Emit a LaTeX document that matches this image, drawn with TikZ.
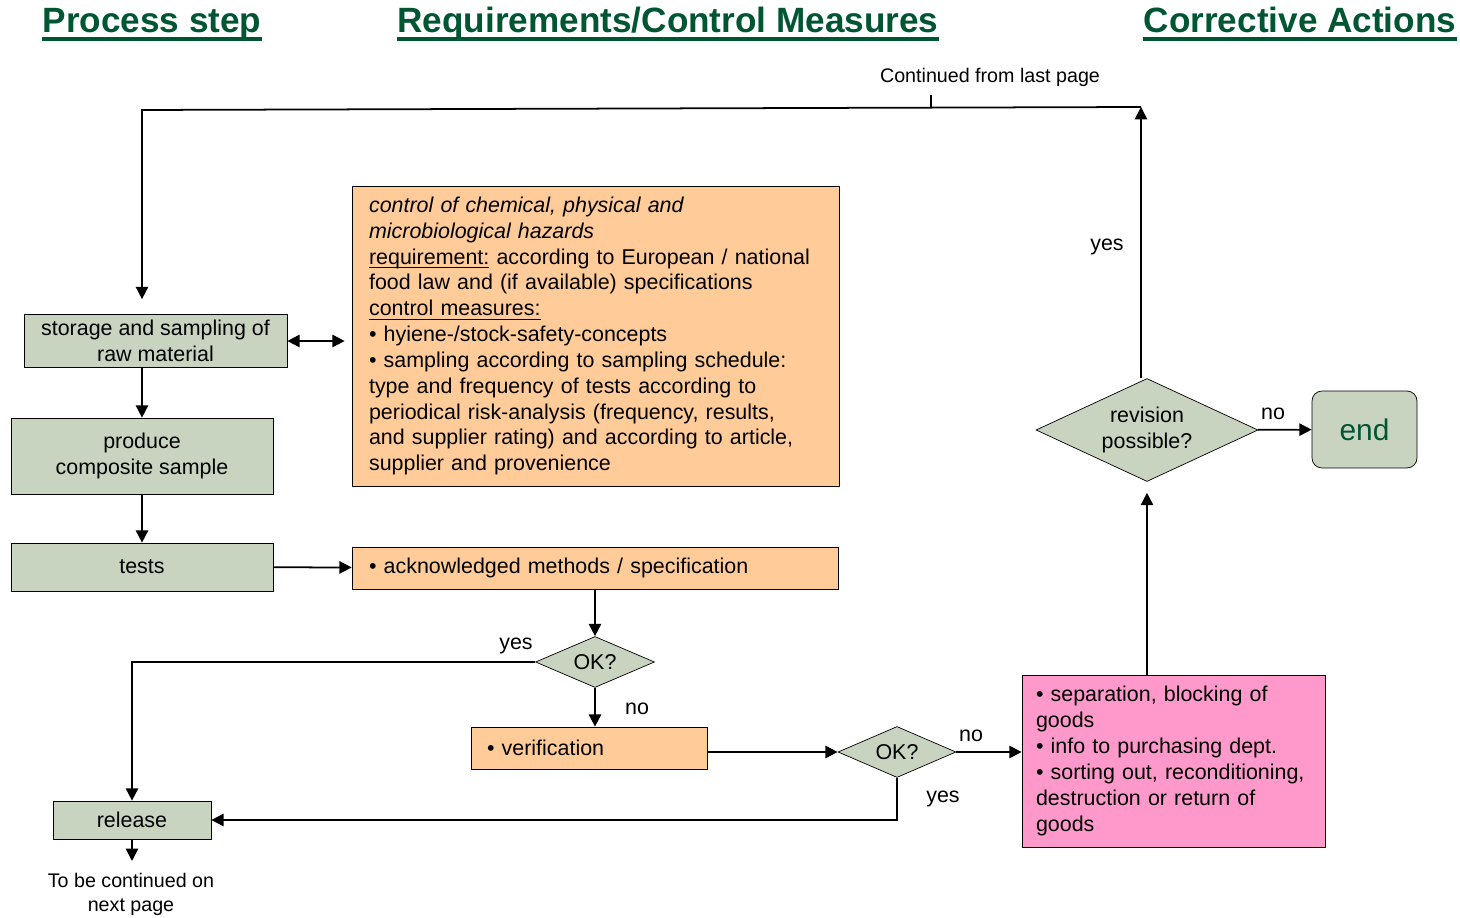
\documentclass[tikz,border=0pt]{standalone}
\usepackage{fontspec}
\setmainfont{Liberation Sans}
\usetikzlibrary{shapes.geometric, arrows.meta}

\definecolor{hdrgreen}{RGB}{0,85,51}
\definecolor{stepgrey}{RGB}{200,212,192}
\definecolor{reqorange}{RGB}{255,204,153}
\definecolor{actpink}{RGB}{255,153,204}

\newsavebox\undlbox
\newcommand{\undl}[1]{\leavevmode\sbox\undlbox{#1}\rlap{\vrule width\wd\undlbox height -1.6pt depth 2.3pt}\usebox\undlbox}

\tikzset{
  every node/.style={font=\fontsize{12.2}{14.7}\selectfont},
  header/.style={font=\fontsize{20}{24}\selectfont\bfseries, text=hdrgreen, inner sep=0pt, anchor=base},
  hdrline/.style={draw=hdrgreen, line width=2.2pt},
  small/.style={font=\fontsize{11.2}{13.6}\selectfont, align=center},
  stepbox/.style={draw, fill=stepgrey, align=center, inner sep=0pt},
  reqbox/.style={draw, fill=reqorange, align=left, inner xsep=0.34cm},
  actbox/.style={draw, fill=actpink, align=left, inner xsep=0.28cm},
  decision/.style={draw, diamond, fill=stepgrey, align=center, inner sep=0pt},
  lbl/.style={inner sep=1pt},
  conn/.style={->, line width=1pt},
}

\begin{document}
\begin{tikzpicture}[x=0.02cm, y=-0.02cm, >={Stealth[inset=0pt, length=7pt, width=7pt]}]
  \useasboundingbox (0,0) rectangle (1460,918);

  % --- headers ---
  \node[header] (hps) at (152,33) {Process step};
  \node[header] (hrc) at (668,33) {Requirements/Control Measures};
  \node[header] (hca) at (1300,33) {Corrective Actions};
  \foreach \h in {hps,hrc,hca}
    \draw[hdrline] ([yshift=-3.5pt]\h.base west) -- ([yshift=-3.5pt]\h.base east);

  % --- process steps ---
  \node[stepbox, minimum width=5.26cm, minimum height=1.06cm] (store) at (155.5,341)
    {storage and sampling of\\raw material};
  \node[stepbox, minimum width=5.24cm, minimum height=1.52cm] (prod) at (142,456)
    {produce\\composite sample};
  \node[stepbox, minimum width=5.24cm, minimum height=0.96cm] (tests) at (142,567) {tests};
  \node[stepbox, minimum width=3.16cm, minimum height=0.76cm] (rel) at (132,820) {release};
  \node[small] (nextpg) at (131,894) {To be continued on\\next page};

  % --- requirements ---
  \node[reqbox, text width=9.06cm, minimum height=6cm] (req) at (595.5,336)
    {\textit{control of chemical, physical and}\\
     \textit{microbiological hazards}\\
     \undl{requirement:} according to European / national\\
     food law and (if available) specifications\\
     \undl{control measures:}\\
     • hyiene-/stock-safety-concepts\\
     • sampling according to sampling schedule:\\
     type and frequency of tests according to\\
     periodical risk-analysis (frequency, results,\\
     and supplier rating) and according to article,\\
     supplier and provenience};
  \node[reqbox, text width=9.04cm, minimum height=0.84cm] (meth) at (595,568)
    {• acknowledged methods / specification};
  \node[decision, shape aspect=2.3, minimum width=2.38cm, minimum height=1.02cm] (ok1) at (595,662) {OK?};
  \node[reqbox, text width=4.08cm, inner xsep=0.32cm, minimum height=0.84cm] (verif) at (589,748)
    {• verification};
  \node[decision, shape aspect=2.3, minimum width=2.36cm, minimum height=1.02cm] (ok2) at (897,752) {OK?};

  % --- corrective actions ---
  \node[actbox, text width=5.5cm, minimum height=3.44cm] (act) at (1173.5,761)
    {• separation, blocking of\\
     goods\\
     • info to purchasing dept.\\
     • sorting out, reconditioning,\\
     destruction or return of\\
     goods};
  \node[decision, shape aspect=2.2, minimum width=4.44cm, minimum height=2.06cm] (rev) at (1147,430)
    {revision\\possible?};
  \node[stepbox, rounded corners=0.2cm, minimum width=2.1cm, minimum height=1.54cm,
        font=\fontsize{17}{20}\selectfont, text=hdrgreen] (end) at (1364.5,429.5) {end};

  % --- continuation at top ---
  \node[small] (cont) at (990,77) {Continued from last page};
  \coordinate (topR) at (1141,107);
  \coordinate (topL) at (142,110);
  \coordinate (tickT) at (931,95);
  \coordinate (tickB) at (931,108);
  \coordinate (relout) at (132,861);

  % --- connectors ---
  \draw[conn] (rev.north -| topR) -- (topR);
  \draw[conn, shorten >=0.3cm] (topR) -- (topL) -- (topL |- store.north);
  \draw[line width=0.7pt] (tickT) -- (tickB);
  \draw[conn, <->, shorten >=4pt] (store.east) -- (req.west |- store.east);
  \draw[conn] (store.south -| prod.north) -- (prod.north);
  \draw[conn] (prod) -- (tests);
  \draw[conn] (tests) -- (meth);
  \draw[conn] (meth) -- (ok1);
  \draw[conn] (ok1.west) -- (ok1.west -| rel.north) -- (rel.north);
  \draw[conn] (ok1.south) -- (ok1.south |- verif.north);
  \draw[conn] (verif.east |- ok2.west) -- (ok2.west);
  \draw[conn] (ok2.east) -- (ok2.east -| act.west);
  \draw[conn] (ok2.south) -- (ok2.south |- rel.east) -- (rel.east);
  \draw[conn, shorten >=0.22cm] (act.north -| rev.south) -- (rev.south);
  \draw[conn] (rev) -- (end);
  \draw[conn] (rel) -- (relout);

  % --- yes / no labels ---
  \node[lbl] (yrev) at (1107,247) {yes};
  \node[lbl] (y1) at (516,646) {yes};
  \node[lbl] (n1) at (637,709) {no};
  \node[lbl] (n2) at (971,736) {no};
  \node[lbl] (y2) at (943,799) {yes};
  \node[lbl] (nrev) at (1273,414) {no};
\end{tikzpicture}
\end{document}
